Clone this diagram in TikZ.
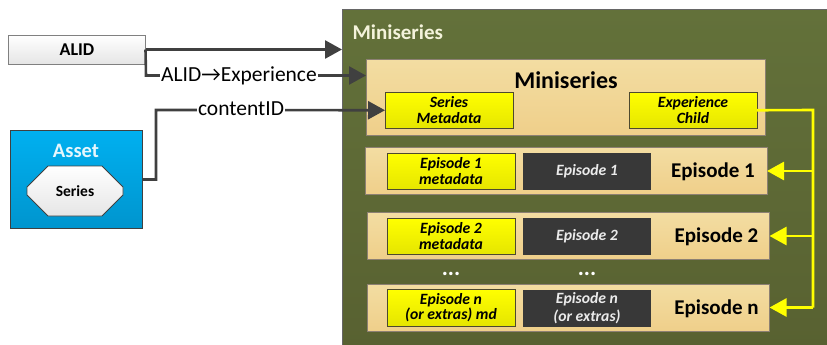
\documentclass[tikz,border=0pt]{standalone}
\usepackage{fontspec}
\setmainfont{Carlito}
\usetikzlibrary{arrows.meta,shapes.misc}
\definecolor{linegray}{HTML}{404040}
\definecolor{flowyellow}{HTML}{FFFF00}
\definecolor{tanA}{HTML}{F3DDA2}
\definecolor{tanB}{HTML}{EFCF8A}
\definecolor{oliveA}{HTML}{63713A}
\definecolor{oliveB}{HTML}{586131}
\definecolor{assetA}{HTML}{00B0F0}
\definecolor{assetB}{HTML}{0095CE}
\tikzset{
	box/.style={anchor=north west,inner sep=0pt,outer sep=0pt},
	tan/.style={box,draw=gray!80!brown,line width=1pt,top color=tanA,bottom color=tanB},
	mdbox/.style={box,draw=black!60!olive,line width=.9pt,top color=flowyellow,bottom color=yellow!90!black,align=center,font=\fontsize{15.7}{15.5}\selectfont\bfseries\itshape,minimum width=128pt,minimum height=36.5pt},
	darkbox/.style={box,fill=black!78,text=black!8,align=center,font=\fontsize{15.7}{18.5}\selectfont\bfseries\itshape,minimum width=128pt,minimum height=37pt},
	eplabel/.style={font=\fontsize{21}{22}\selectfont\bfseries},
	flow/.style={line width=2.6pt,draw=linegray},
	flowy/.style={line width=2.6pt,draw=flowyellow},
	arrowd/.style={flow,-{Triangle[length=17pt,width=18pt]}},
	arrowy/.style={flowy,-{Triangle[length=17pt,width=18pt]}},
	wire/.style={fill=white,inner sep=1pt,font=\fontsize{21.5}{23}\selectfont},
}
\begin{document}
\begin{tikzpicture}[x=1pt,y=-1pt,line join=miter]
	\useasboundingbox (0,0) rectangle (827,345);
	% left side
	\node[box,draw=gray,line width=.8pt,top color=white,bottom color=black!10,minimum width=137pt,minimum height=29pt,font=\fontsize{18}{20}\selectfont\bfseries] (alid) at (8.5,35) {ALID};
	\node[box,draw=linegray,line width=.8pt,top color=assetA,bottom color=assetB,minimum width=132pt,minimum height=97.5pt] (asset) at (10,130.5) {};
	\node[text=white!90!cyan,font=\fontsize{20.5}{22}\selectfont\bfseries] (assetname) at (76,150.5) {Asset};
	\node[draw=linegray,line width=.8pt,top color=white,bottom color=black!10,chamfered rectangle,chamfered rectangle xsep=19pt,chamfered rectangle ysep=15.5pt,inner sep=0pt,minimum width=96pt,minimum height=50pt,font=\fontsize{15.5}{17}\selectfont\bfseries] (series) at (75,191) {Series};
	% miniseries
	\node[box,draw=linegray!80,line width=.8pt,top color=oliveA,bottom color=oliveB,minimum width=490pt,minimum height=340pt] (outer) at (342,9.5) {};
	\node[anchor=west,text=white!90!olive,font=\fontsize{21}{23}\selectfont\bfseries] (outername) at (349,32.5) {Miniseries};
	\node[tan,minimum width=399.5pt,minimum height=75.5pt] (top) at (366,59.5) {};
	\node[font=\fontsize{24}{26}\selectfont\bfseries] (topname) at (566,80.5) {Miniseries};
	\node[mdbox] (md) at (385,92) {Series\\Metadata};
	\node[mdbox] (child) at (629,92) {Experience\\Child};
	% episodes
	\foreach \k/\xb/\yb/\xl/\ta/\tb/\tc in {
		1/365/147.5/713/{Episode 1\\metadata}/{Episode 1}/{Episode 1},
		2/367.5/212.5/716.5/{Episode 2\\metadata}/{Episode 2}/{Episode 2},
		n/367.5/284/716.5/{Episode n\\(or extras) md}/{Episode n\\(or extras)}/{Episode n}}{
		\node[tan,minimum width=402pt,minimum height=47pt] (ep\k) at (\xb,\yb) {};
		\node[mdbox] (epmd\k) at (387,\yb+5.5) {\ta};
		\node[darkbox] (epct\k) at (523,\yb+5.5) {\tb};
		\node[eplabel] (epname\k) at (\xl,\yb+24.5) {\tc};
	}
	\foreach \xd/\nm in {451/a,587/b}
		\node[text=white,font=\fontsize{23}{25}\selectfont\bfseries] (dots\nm) at (\xd,274) {...};
	% connectors
	\path (146,75.5) coordinate (abend)
		(366,75.5) coordinate (tin)
		(156,179.5) coordinate (cbend)
		(156,110) coordinate (ctop)
		(813,110) coordinate (ya)
		(813,307.5) coordinate (yb);
	\draw[arrowd] (alid.east) -- (outer.west |- alid.east);
	\draw[arrowd] (alid.east) -- (abend) -- (tin);
	\draw[arrowd] (asset.east |- cbend) -- (cbend) -- (ctop) -- (md.west);
	\node[wire] (expid) at (239,75.5) {ALID→Experience};
	\node[wire] (cid) at (241,109) {contentID};
	\draw[flowy] (child.east) -- (ya) -- (yb);
	\foreach \k in {1,2,n}
		\draw[arrowy] (ya |- ep\k.east) -- (ep\k.east);
\end{tikzpicture}
\end{document}
